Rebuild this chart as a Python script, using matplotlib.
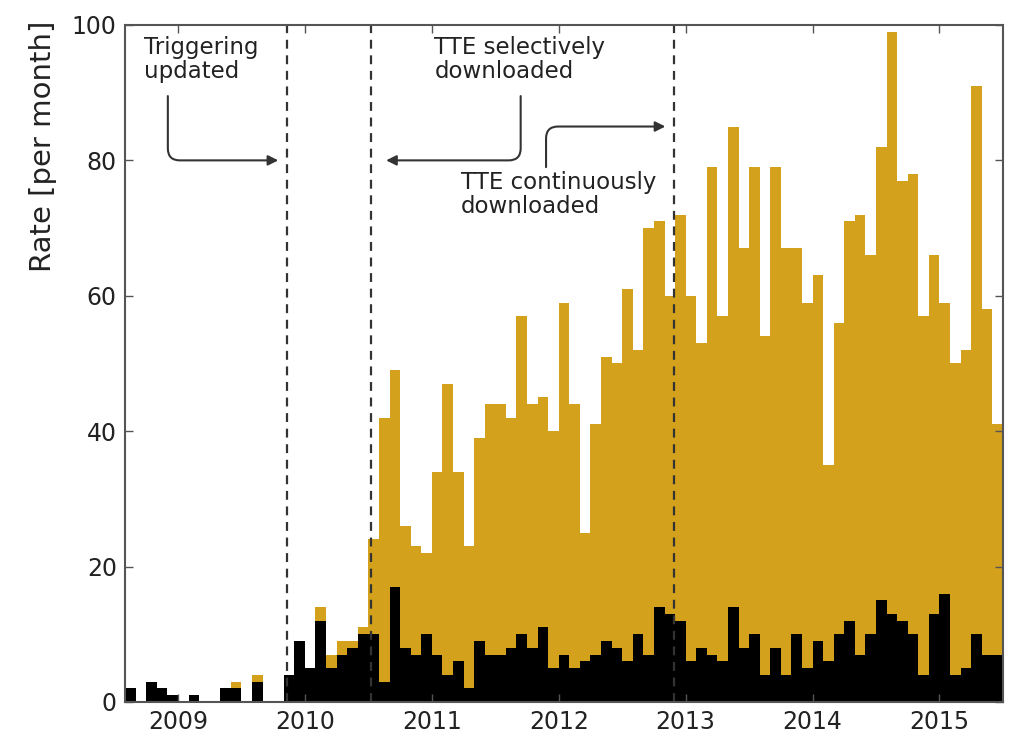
import numpy as np
import matplotlib
matplotlib.use("Agg")
import matplotlib.pyplot as plt

# monthly bins, first bin = Aug 2008, last bin = Jun 2015
start_year = 2008
start_month = 8

# all triggers per month (gold, drawn behind)
total = [2, 0, 3, 2, 1, 0, 1, 0, 0, 2, 3, 0, 4, 0, 0, 4, 9, 5, 14, 7,
         9, 9, 11, 24, 42, 49, 26, 23, 22, 34, 47, 34, 23, 39, 44, 44, 42, 57, 44, 45,
         40, 59, 44, 25, 41, 51, 50, 61, 52, 70, 71, 60, 72, 60, 53, 79, 57, 85, 67, 79,
         54, 79, 67, 67, 59, 63, 35, 56, 71, 72, 66, 82, 99, 77, 78, 57, 66, 59, 50, 52,
         91, 58, 41]
# on-board triggered subset (black, drawn in front)
triggered = [2, 0, 3, 2, 1, 0, 1, 0, 0, 2, 2, 0, 3, 0, 0, 4, 9, 5, 12, 5,
             7, 8, 10, 10, 3, 17, 8, 7, 10, 7, 4, 6, 2, 9, 7, 7, 8, 10, 8, 11,
             5, 7, 5, 6, 7, 9, 8, 6, 10, 7, 14, 13, 12, 6, 8, 7, 6, 14, 8, 10,
             4, 8, 4, 10, 5, 9, 6, 10, 12, 7, 10, 15, 13, 12, 10, 4, 13, 16, 4, 5,
             10, 7, 7]

# epochs of instrument changes (decimal year)
events = [2009.86, 2010.52, 2012.91]
year_ticks = [2009, 2010, 2011, 2012, 2013, 2014, 2015]

gold = '#D4A11C'
t0 = start_year + (start_month - 1) / 12.0
edges = t0 + np.arange(len(total)) / 12.0

fig = plt.figure(figsize=(10.09, 7.35), dpi=100)
ax = fig.add_axes([0.124, 0.045, 0.870, 0.921])

ax.bar(edges, total, width=1 / 12.0, align='edge', color=gold, linewidth=0)
ax.bar(edges, triggered, width=1 / 12.0, align='edge', color='black', linewidth=0)

for ev in events:
    ax.axvline(ev, color='#333333', ls=(0, (4, 3)), lw=1.6, zorder=3)

ax.set_xlim(t0, edges[-1] + 1 / 12.0)
ax.set_ylim(0, 100)
ax.set_xticks(year_ticks)
ax.set_xticklabels([str(y) for y in year_ticks])
ax.set_yticks(range(0, 101, 20))
ax.tick_params(direction='in', top=True, right=True, length=6, width=1,
               color='#555555', labelsize=17, labelcolor='#222222', pad=6)
for s in ax.spines.values():
    s.set_color('#555555')
    s.set_linewidth(1.5)
    s.set_zorder(5)

ax.set_ylabel('Rate [per month]', fontsize=21, color='#222222', loc='top')
ax.yaxis.set_label_coords(-0.078, 1.007)

arrow = dict(arrowstyle='-|>', color='#333333', lw=1.5, shrinkA=0, shrinkB=0,
             mutation_scale=15, connectionstyle='angle,angleA=90,angleB=0,rad=12')
tfont = dict(fontsize=16.5, color='#222222', va='top', ha='left', linespacing=1.05)

ax.text(2008.73, 98.4, 'Triggering\nupdated', **tfont)
ax.annotate('', xy=(2009.79, 80), xytext=(2008.92, 89.5), arrowprops=arrow)

ax.text(2011.02, 98.4, 'TTE selectively\ndownloaded', **tfont)
ax.annotate('', xy=(2010.64, 80), xytext=(2011.70, 89.5), arrowprops=arrow)

ax.text(2011.23, 78.4, 'TTE continuously\ndownloaded', **tfont)
ax.annotate('', xy=(2012.84, 85), xytext=(2011.90, 79), arrowprops=arrow)

fig.savefig('out.png', dpi=100)
